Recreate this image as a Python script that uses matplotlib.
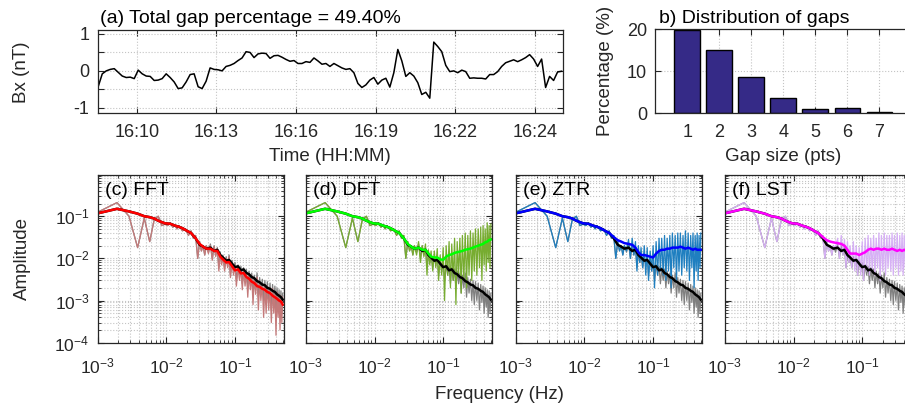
import matplotlib.pyplot as plt
import numpy as np
from matplotlib.ticker import LogLocator, NullFormatter

plt.rcParams['font.family'] = ['Liberation Sans', 'DejaVu Sans']
plt.rcParams['mathtext.fontset'] = 'custom'
plt.rcParams['mathtext.rm'] = 'Liberation Sans'
plt.rcParams['axes.unicode_minus'] = False
plt.rcParams['font.size'] = 12

# ---- (a) Bx time series, minutes after 16:00 ----
bx = [-0.42, -0.08, 0.0, 0.04, 0.06, -0.04, -0.14, -0.18, -0.17, -0.21,
      0.02, -0.08, -0.14, -0.15, -0.26, -0.25, -0.21, -0.08, -0.18, -0.30,
      -0.48, -0.46, -0.30, -0.10, -0.08, -0.43, -0.48, -0.28, 0.08, 0.04,
      0.03, 0.0, 0.12, 0.15,
      0.2, 0.28, 0.35, 0.52, 0.5, 0.36, 0.46, 0.48, 0.47, 0.34,
      0.41, 0.42, 0.37, 0.31, 0.26, 0.28, 0.2, 0.2, 0.25, 0.23,
      0.35, 0.27, 0.18, 0.2, 0.12, 0.2, 0.14, 0.08, 0.04, 0.06,
      -0.05, -0.34, -0.45, -0.38, -0.25,
      -0.18, -0.36, -0.25, -0.2, -0.44, -0.05, 0.58, 0.27, -0.15, -0.05,
      -0.14, -0.32, -0.64, -0.58, -0.74, 0.78, 0.66, 0.52, 0.15, -0.02,
      0.0, -0.05, 0.02, -0.02, -0.2, -0.19, -0.2, -0.2, -0.22, -0.1,
      -0.1, -0.02, 0.12, 0.22, 0.26,
      0.3, 0.25, 0.3, 0.36, 0.44, 0.32, 0.12, 0.32, -0.45, -0.15,
      -0.26, -0.03, -0.01]
t_first, t_last = 8.55, 26.0
time_ticks = [10, 13, 16, 19, 22, 25]
time_labels = ['16:10', '16:13', '16:16', '16:19', '16:22', '16:24']

# ---- (b) gap distribution ----
gap_size = [1, 2, 3, 4, 5, 6, 7]
gap_pct = [19.8, 15.0, 8.7, 3.6, 1.1, 1.3, 0.2]

# ---- (c-f) spectra: harmonic index k, f = k / n_samples ----
n_samples = 1050
harm_raw = [1, 2, 3, 4, 5, 6, 7, 8, 9, 10, 11, 12, 13, 14, 15, 16,
            18, 20, 22, 24, 26, 28, 30, 32, 34, 36, 38, 40,
            43, 46, 49, 52, 55, 58, 61, 64, 67, 70,
            74, 78, 82, 86, 90, 95, 100, 105, 110,
            116, 122, 128, 134, 140, 147, 154, 161, 168,
            176, 184, 192, 200, 210, 220, 230, 240, 250,
            262, 274, 286, 298, 310,
            325, 340, 355, 370, 385, 400, 415, 430, 445, 460, 475, 490, 505, 520]
harm_smooth = [1, 2, 3, 4, 5, 6, 7, 8, 10, 12, 14, 16, 18, 20, 24,
               28, 32, 36, 40, 46, 52, 58, 64, 70, 78, 86, 95, 105, 116, 128,
               140, 154, 168, 184, 200, 220, 240, 262, 286, 310, 340, 370,
               400, 430, 460, 490, 520]

raw_low = [0.12, 0.21, 0.1, 0.018, 0.09, 0.025, 0.085, 0.1, 0.06, 0.065,
           0.06, 0.07, 0.055, 0.06, 0.05, 0.06, 0.045, 0.05, 0.035, 0.045,
           0.03, 0.035, 0.01, 0.025, 0.015, 0.02, 0.012, 0.02]
raw_orig_high = [0.014, 0.022, 0.01, 0.02, 0.012, 0.018, 0.006, 0.014, 0.008, 0.012,
                 0.006, 0.011, 0.007, 0.012, 0.004, 0.009, 0.005, 0.008, 0.003,
                 0.007, 0.004, 0.0065, 0.0025, 0.006, 0.003, 0.0055, 0.002, 0.005,
                 0.0025, 0.0045, 0.0015, 0.004, 0.002, 0.0045, 0.0012, 0.0035, 0.0015,
                 0.0032, 0.001, 0.003, 0.0008, 0.0028,
                 0.001, 0.0026, 0.0006, 0.0024, 0.0009, 0.0022, 0.0005, 0.002,
                 0.0007, 0.0018, 0.0004, 0.0017, 0.0005, 0.0015]
raw_fft_high = [0.013, 0.02, 0.009, 0.019, 0.011, 0.017, 0.005, 0.013, 0.007, 0.011,
                0.005, 0.01, 0.006, 0.011, 0.0035, 0.008, 0.004, 0.007, 0.0022,
                0.006, 0.003, 0.0055, 0.0018, 0.005, 0.0022, 0.0045, 0.0012, 0.004,
                0.0018, 0.0038, 0.0008, 0.0032, 0.0014, 0.0036, 0.0006, 0.0028, 0.001,
                0.0025, 0.0004, 0.0024, 0.0005, 0.0022,
                0.0006, 0.002, 0.0003, 0.0019, 0.0005, 0.0017, 0.00015, 0.0016,
                0.0004, 0.0014, 0.0002, 0.0013, 0.0003, 0.0012]
raw_dft_high = [0.012, 0.025, 0.008, 0.02, 0.011, 0.022, 0.004, 0.016, 0.007, 0.015,
                0.005, 0.015, 0.006, 0.017, 0.003, 0.012, 0.004, 0.018, 0.001,
                0.02, 0.004, 0.025, 0.002, 0.022, 0.003, 0.03, 0.0008, 0.025,
                0.004, 0.03, 0.0015, 0.035, 0.003, 0.04, 0.002, 0.035, 0.004,
                0.045, 0.003, 0.04, 0.005, 0.05,
                0.004, 0.05, 0.006, 0.055, 0.003, 0.06, 0.007, 0.05,
                0.005, 0.07, 0.008, 0.06, 0.006, 0.065]
raw_ztr_high = [0.015, 0.028, 0.01, 0.03, 0.012, 0.025, 0.005, 0.02, 0.008, 0.018,
                0.006, 0.02, 0.004, 0.018, 0.003, 0.015, 0.005, 0.02, 0.002,
                0.025, 0.004, 0.03, 0.005, 0.03, 0.004, 0.035, 0.003, 0.03,
                0.005, 0.035, 0.002, 0.04, 0.006, 0.035, 0.003, 0.04, 0.005,
                0.04, 0.004, 0.035, 0.006, 0.045,
                0.005, 0.04, 0.003, 0.035, 0.006, 0.04, 0.002, 0.035,
                0.005, 0.04, 0.003, 0.035, 0.006, 0.04]
raw_lst_high = [0.018, 0.03, 0.01, 0.035, 0.012, 0.028, 0.006, 0.025, 0.008, 0.02,
                0.006, 0.025, 0.005, 0.02, 0.004, 0.018, 0.004, 0.025, 0.003,
                0.03, 0.005, 0.035, 0.004, 0.03, 0.005, 0.035, 0.004, 0.03,
                0.006, 0.04, 0.003, 0.035, 0.005, 0.04, 0.004, 0.035, 0.006,
                0.035, 0.005, 0.04, 0.004, 0.035,
                0.006, 0.04, 0.004, 0.035, 0.005, 0.04, 0.004, 0.035,
                0.006, 0.04, 0.005, 0.035, 0.006, 0.04]

smooth_low = [0.115, 0.15, 0.13, 0.115, 0.10, 0.095, 0.088, 0.078, 0.068, 0.066,
              0.06, 0.056, 0.052, 0.047, 0.040]
smooth_orig_high = [0.030, 0.021, 0.019, 0.017, 0.018, 0.015, 0.016, 0.012, 0.0105, 0.0088,
                    0.0092, 0.0075, 0.0062, 0.0065, 0.0052, 0.0055, 0.0045, 0.0042, 0.0036,
                    0.0034, 0.0029, 0.0027, 0.0024, 0.0023, 0.0020, 0.0019, 0.0017, 0.0016,
                    0.0014, 0.0013, 0.0012, 0.00105]
smooth_fft_high = [0.030, 0.022, 0.019, 0.017, 0.017, 0.015, 0.015, 0.011, 0.0095, 0.008,
                   0.0082, 0.0065, 0.0052, 0.0055, 0.0044, 0.0045, 0.0036, 0.0033, 0.0028,
                   0.0026, 0.0022, 0.0021, 0.0019, 0.0018, 0.0016, 0.0015, 0.0013, 0.0012,
                   0.0011, 0.001, 0.00095, 0.0008]
smooth_dft_high = [0.030, 0.022, 0.019, 0.017, 0.018, 0.016, 0.016, 0.013, 0.011, 0.0105,
                   0.0105, 0.0095, 0.0092, 0.011, 0.012, 0.0125, 0.0135, 0.014, 0.0145,
                   0.015, 0.016, 0.0165, 0.017, 0.018, 0.019, 0.02, 0.021, 0.022,
                   0.024, 0.025, 0.027, 0.028]
smooth_ztr_high = [0.032, 0.027, 0.025, 0.023, 0.022, 0.021, 0.018, 0.014, 0.012, 0.012,
                   0.0115, 0.011, 0.0105, 0.013, 0.015, 0.016, 0.016, 0.017, 0.017,
                   0.018, 0.018, 0.018, 0.019, 0.018, 0.017, 0.018, 0.017, 0.016,
                   0.017, 0.016, 0.016, 0.016]
smooth_lst_high = [0.032, 0.027, 0.025, 0.024, 0.023, 0.022, 0.020, 0.016, 0.013, 0.013,
                   0.013, 0.012, 0.013, 0.014, 0.016, 0.017, 0.016, 0.017, 0.017,
                   0.016, 0.017, 0.016, 0.016, 0.017, 0.016, 0.015, 0.016, 0.015,
                   0.016, 0.015, 0.016, 0.016]

methods = ['(c) FFT', '(d) DFT', '(e) ZTR', '(f) LST']
raw_highs = [raw_fft_high, raw_dft_high, raw_ztr_high, raw_lst_high]
smooth_highs = [smooth_fft_high, smooth_dft_high, smooth_ztr_high, smooth_lst_high]
raw_colors = ['#c47a7a', '#77ac30', '#1f7fc0', '#d6b0f5']
smooth_colors = ['#ff0000', '#00ff00', '#0000ff', '#ff00ff']

grid_kw = dict(ls=':', color='#c4c4c4', lw=0.8)
spine_col = '#262626'


def style(ax, size=13, pad=8):
    for s in ax.spines.values():
        s.set_color(spine_col)
        s.set_linewidth(0.9)
    ax.tick_params(which='both', direction='in', top=True, right=True,
                   colors=spine_col, labelcolor='#262626', labelsize=size)
    ax.tick_params(which='major', length=4, pad=6)
    ax.tick_params(axis='x', which='major', pad=pad)
    ax.tick_params(which='minor', length=2)


fig = plt.figure(figsize=(9.05, 4.07), dpi=100)

# (a)
ax_a = fig.add_axes([0.108, 0.7216, 0.514, 0.204])
times = np.linspace(t_first, t_last, len(bx))
ax_a.plot(times, bx, color='k', lw=1.1)
ax_a.set_xlim(8.53, 26.05)
ax_a.set_ylim(-1.15, 1.1)
ax_a.set_xticks(time_ticks)
ax_a.set_xticklabels(time_labels)
ax_a.set_yticks([-1, -0.5, 0, 0.5, 1])
ax_a.set_yticklabels(['-1', '', '0', '', '1'])
ax_a.grid(True, **grid_kw)
ax_a.set_axisbelow(True)
style(ax_a)
ax_a.set_xlabel('Time (HH:MM)', fontsize=13.5, color='#262626', labelpad=5)
ax_a.set_ylabel('Bx (nT)', fontsize=13.5, color='#262626')
ax_a.yaxis.set_label_coords(-0.145, 0.5)
ax_a.text(0.005, 1.04, '(a) Total gap percentage = 49.40%', transform=ax_a.transAxes,
          fontsize=14, va='bottom', ha='left')

# (b)
ax_b = fig.add_axes([0.724, 0.7216, 0.283, 0.2064])
ax_b.bar(gap_size, gap_pct, width=0.8, color='#352a87', edgecolor='k', lw=1.0)
ax_b.set_xlim(0, 8)
ax_b.set_ylim(0, 20)
ax_b.set_xticks(gap_size)
ax_b.set_yticks([0, 10, 20])
ax_b.grid(True, **grid_kw)
ax_b.set_axisbelow(True)
style(ax_b)
ax_b.set_xlabel('Gap size (pts)', fontsize=13.5, color='#262626', labelpad=5)
ax_b.set_ylabel('Percentage (%)', fontsize=13.5, color='#262626')
ax_b.yaxis.set_label_coords(-0.16, 0.5)
ax_b.text(0.015, 1.03, 'b) Distribution of gaps', transform=ax_b.transAxes,
          fontsize=14, va='bottom', ha='left')

# (c-f)
f_raw = np.array(harm_raw) / n_samples
f_smooth = np.array(harm_smooth) / n_samples
raw_orig = raw_low + raw_orig_high
smooth_orig = smooth_low + smooth_orig_high
lefts = [0.108, 0.338, 0.570, 0.801]
for i in range(4):
    ax = fig.add_axes([lefts[i], 0.158, 0.206, 0.412])
    ax.loglog(f_raw, raw_orig, color='#808080', lw=0.9)
    ax.loglog(f_raw, raw_low + raw_highs[i], color=raw_colors[i], lw=0.9)
    ax.loglog(f_smooth, smooth_orig, color='k', lw=1.8)
    ax.loglog(f_smooth, smooth_low + smooth_highs[i], color=smooth_colors[i], lw=1.8)
    ax.set_xlim(1e-3, 0.52)
    ax.set_ylim(1e-4, 0.95)
    ax.set_xticks([1e-3, 1e-2, 1e-1])
    ax.set_yticks([1e-4, 1e-3, 1e-2, 1e-1])
    ax.xaxis.set_minor_locator(LogLocator(base=10, subs=np.arange(2, 10)))
    ax.yaxis.set_minor_locator(LogLocator(base=10, subs=np.arange(2, 10)))
    ax.xaxis.set_minor_formatter(NullFormatter())
    ax.yaxis.set_minor_formatter(NullFormatter())
    if i > 0:
        ax.yaxis.set_major_formatter(NullFormatter())
    ax.grid(True, which='both', **grid_kw)
    ax.set_axisbelow(True)
    style(ax, size=12.5, pad=10)
    ax.text(0.04, 0.96, methods[i], transform=ax.transAxes, fontsize=14,
            va='top', ha='left')
    if i == 0:
        ax.set_ylabel('Amplitude', fontsize=13.5, color='#262626')
        ax.yaxis.set_label_coords(-0.36, 0.5)

fig.text(0.552, 0.03, 'Frequency (Hz)', ha='center', va='center', fontsize=13.5,
         color='#262626')

fig.savefig('out.png', dpi=100)
